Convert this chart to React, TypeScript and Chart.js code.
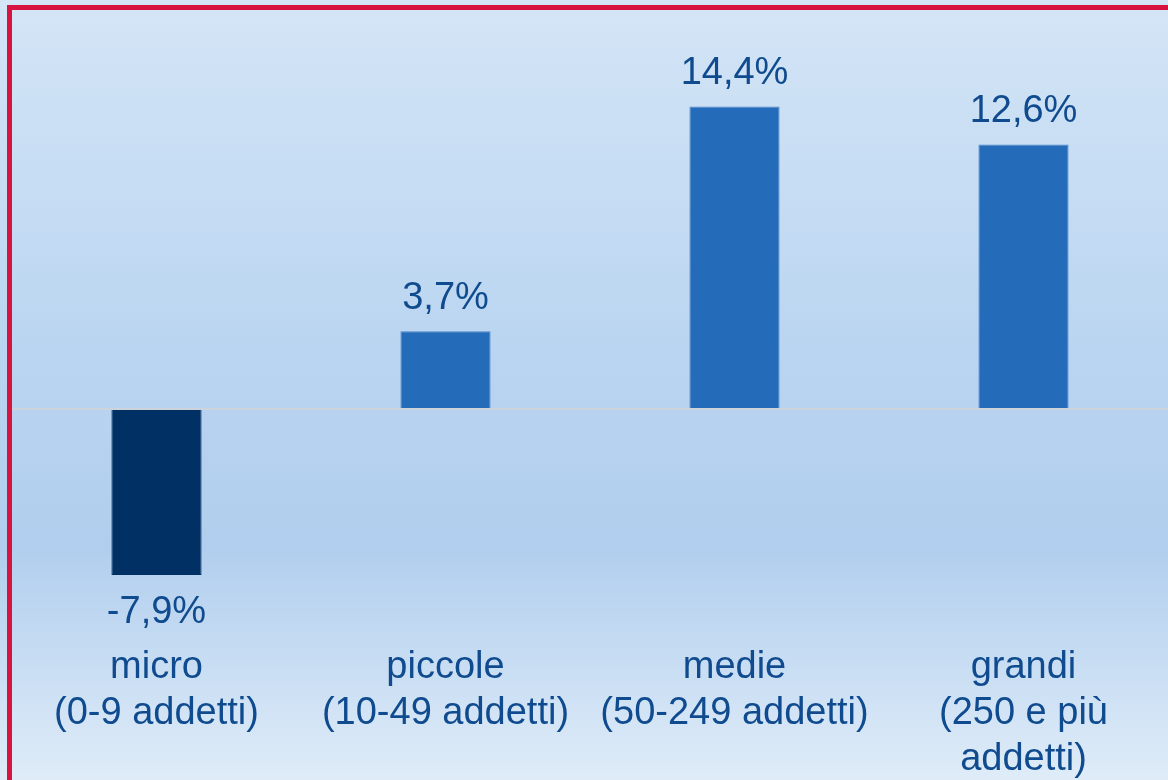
import React, { useEffect, useRef } from "react";
import { Chart, registerables } from "chart.js";

Chart.register(...registerables);

const categories: string[][] = [
  ["micro", "(0-9 addetti)"],
  ["piccole", "(10-49 addetti)"],
  ["medie", "(50-249 addetti)"],
  ["grandi", "(250 e più", "addetti)"],
];
const values: number[] = [-7.9, 3.7, 14.4, 12.6];
const barColors: string[] = ["#003064", "#246BB9", "#246BB9", "#246BB9"];

const TEXT_COLOR = "#0F4B8E";
const FONT_FAMILY = "'Liberation Sans', Arial, sans-serif";

const backgroundPlugin = {
  id: "bgFrame",
  beforeDraw(chart: any) {
    const { ctx, width, height } = chart;
    ctx.save();
    const g = ctx.createLinearGradient(0, 0, 0, height);
    g.addColorStop(0, "#D4E5F6");
    g.addColorStop(0.45, "#BAD5F1");
    g.addColorStop(0.7, "#B1CEEE");
    g.addColorStop(1, "#DFECF8");
    ctx.fillStyle = g;
    ctx.fillRect(0, 0, width, height);
    ctx.fillStyle = "#D81340";
    ctx.fillRect(7, 5, 5, height - 5);
    ctx.fillRect(7, 5, width - 7, 5);
    ctx.restore();
  },
};

const labelPlugin = {
  id: "valueLabels",
  afterDatasetsDraw(chart: any) {
    const { ctx } = chart;
    const meta = chart.getDatasetMeta(0);
    ctx.save();
    ctx.font = `38px ${FONT_FAMILY}`;
    ctx.fillStyle = TEXT_COLOR;
    ctx.textAlign = "center";
    ctx.textBaseline = "middle";
    meta.data.forEach((bar: any, i: number) => {
      const v = values[i];
      const txt = v.toFixed(1).replace(".", ",") + "%";
      const y = v >= 0 ? bar.y - 33 : bar.y + 38;
      ctx.fillText(txt, bar.x, y);
    });
    ctx.restore();
  },
};

export default function App() {
  const ref = useRef<HTMLCanvasElement | null>(null);

  useEffect(() => {
    if (!ref.current) return;
    const chart = new Chart(ref.current, {
      type: "bar",
      data: {
        labels: categories,
        datasets: [
          {
            data: values,
            backgroundColor: barColors,
            borderColor: barColors.map((c, i) => (i === 0 ? c : "#4C85C8")),
            borderWidth: 1,
            barPercentage: 0.312,
            categoryPercentage: 1,
          },
        ],
      },
      options: {
        animation: false,
        responsive: false,
        layout: { padding: { left: 12, right: 0, top: 10, bottom: 0 } },
        plugins: {
          legend: { display: false },
          tooltip: { enabled: false },
        },
        scales: {
          x: {
            grid: { display: false, drawTicks: false },
            border: { display: false },
            ticks: {
              color: TEXT_COLOR,
              font: { family: FONT_FAMILY, size: 38, lineHeight: 1.22 },
              padding: 4,
              maxRotation: 0,
              minRotation: 0,
              autoSkip: false,
            },
            afterFit: (scale: any) => {
              scale.height = 140;
            },
          },
          y: {
            min: -11,
            max: 19,
            ticks: { display: false, stepSize: 1 },
            border: { display: false },
            grid: {
              drawTicks: false,
              z: 1,
              lineWidth: 2,
              color: (c: any) => (c.tick && c.tick.value === 0 ? "#CDD3DB" : "rgba(0,0,0,0)"),
            },
            afterFit: (scale: any) => {
              scale.width = 0;
            },
          },
        },
      },
      plugins: [backgroundPlugin, labelPlugin],
    });
    return () => chart.destroy();
  }, []);

  return (
    <div style={{ position: "absolute", left: 0, top: 0, width: 1168, height: 780 }}>
      <canvas ref={ref} width={1168} height={780} style={{ display: "block", width: 1168, height: 780 }} />
    </div>
  );
}
